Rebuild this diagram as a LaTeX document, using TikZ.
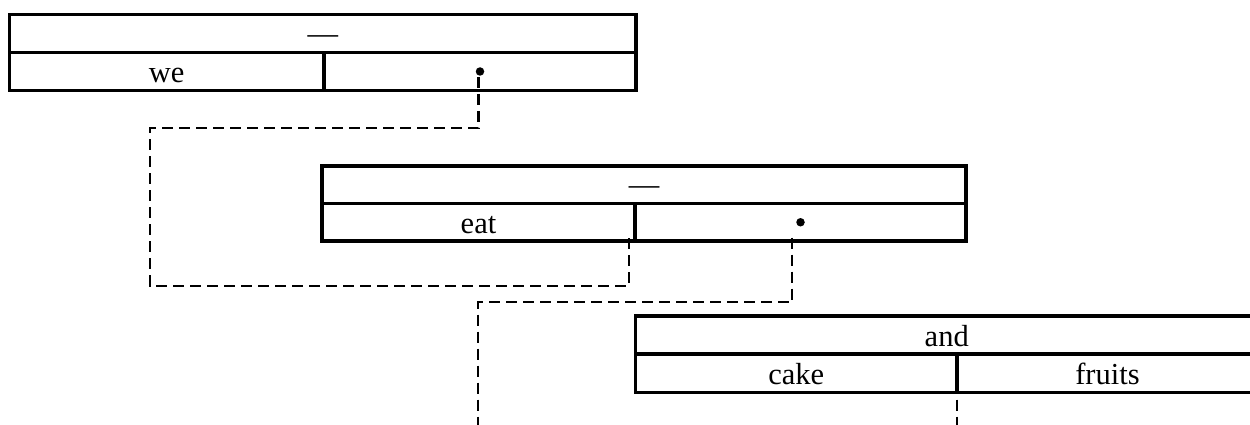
\documentclass[tikz,border=0pt]{standalone}
\usepackage{fontspec}
\setmainfont{Liberation Serif}
\usetikzlibrary{calc}
\begin{document}
\begin{tikzpicture}[x=1pt,y=-1pt,
  cell/.style={draw, line width=3.2pt, anchor=north west, inner sep=0pt, outer sep=0pt,
    minimum height=38pt, text height=24pt, text depth=2pt,
    font=\fontsize{30.5}{36}\selectfont},
  link/.style={line width=2.1pt, dash pattern=on 11pt off 6pt},
  dotnode/.style={circle, fill, inner sep=0pt, minimum size=8.5pt}]
\useasboundingbox (0,0) rectangle (1250,425);
\clip (0,0) rectangle (1250,425);

% first phrase: "we" and a slot
\node[cell, minimum width=626.5pt] (t1) at (9.5,14.5) {\raisebox{1pt}{—}};
\node[cell, minimum width=314.5pt] (we) at (9.5,52.5) {we};
\node[cell, minimum width=312pt]   (s1) at (324,52.5) {};
\node[dotnode] (d1) at (s1.center) {};

% second phrase: "eat" and a slot
\node[cell, minimum width=644pt, minimum height=37.5pt] (t2) at (322,166) {\raisebox{1pt}{—}};
\node[cell, minimum width=313pt, minimum height=37.5pt] (eat) at (322,203.5) {eat};
\node[cell, minimum width=331pt, minimum height=37.5pt] (s2) at (635,203.5) {};
\node[dotnode] (d2) at (s2.center) {};

% coordination: "and" over "cake" and "fruits"
\node[cell, minimum width=622.5pt] (t3) at (635.5,316) {and};
\node[cell, minimum width=321.5pt] (cake) at (635.5,354.5) {cake};
\node[cell, minimum width=301pt]   (fruits) at (957,354.5) {fruits};

% slot of "we" filled by "eat"
\coordinate (a0) at ($(d1.south)+(-1.5,1)$);
\coordinate (a1) at (150,128);
\coordinate (a2) at (150,286);
\coordinate (a3) at ($(eat.south east)+(-6,-3.5)$);
\draw[link] (a0) |- (a1) -- (a2) -| (a3);

% slot of "eat" filled by the coordination
\coordinate (b0) at ($(s2.south)+(-8.5,-3.5)$);
\coordinate (b1) at (478,302);
\coordinate (b2) at (478,430);
\draw[link] (b0) |- (b1) -- (b2);

% continuation below "cake"
\coordinate (c0) at ($(cake.south east)+(0,-10)$);
\coordinate (c1) at (957,430);
\draw[link] (c0) -- (c1);
\end{tikzpicture}
\end{document}
